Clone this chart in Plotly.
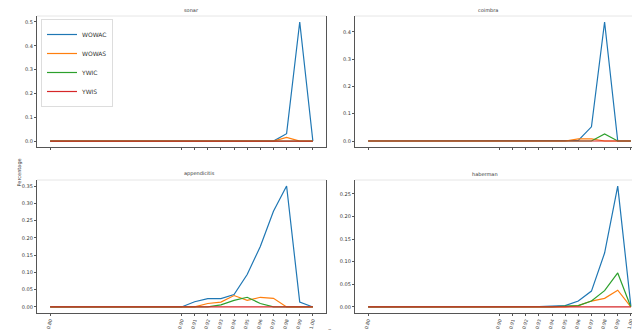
import plotly.graph_objects as go

# x values (thresholds)
thresholds = [0.80, 0.90, 0.91, 0.92, 0.93, 0.94, 0.95, 0.96, 0.97, 0.98, 0.99, 1.00]
tick_text = ["0.80", "0.90", "0.91", "0.92", "0.93", "0.94", "0.95", "0.96", "0.97", "0.98", "0.99", "1.00"]

methods = ["WOWAC", "WOWAS", "YWIC", "YWIS"]
colors = ["#1f77b4", "#ff7f0e", "#2ca02c", "#d62728"]

# sonar
sonar_wowac = [0, 0, 0, 0, 0, 0, 0, 0, 0, 0.031, 0.50, 0]
sonar_wowas = [0, 0, 0, 0, 0, 0, 0, 0, 0, 0.015, 0, 0]
sonar_ywic = [0, 0, 0, 0, 0, 0, 0, 0, 0, 0, 0, 0]
sonar_ywis = [0, 0, 0, 0, 0, 0, 0, 0, 0, 0, 0, 0]

# coimbra
coimbra_wowac = [0, 0, 0, 0, 0, 0.002, 0.002, 0.002, 0.052, 0.436, 0, 0]
coimbra_wowas = [0, 0, 0, 0, 0, 0, 0, 0.008, 0.008, 0, 0, 0]
coimbra_ywic = [0, 0, 0, 0, 0, 0, 0, 0, 0, 0.026, 0, 0]
coimbra_ywis = [0, 0, 0, 0, 0, 0, 0, 0, 0, 0, 0, 0]

# appendicitis
append_wowac = [0, 0, 0.015, 0.024, 0.024, 0.036, 0.094, 0.175, 0.277, 0.35, 0.014, 0]
append_wowas = [0, 0, 0, 0.010, 0.014, 0.033, 0.019, 0.028, 0.025, 0, 0, 0]
append_ywic = [0, 0, 0, 0, 0.006, 0.019, 0.028, 0.010, 0, 0, 0, 0]
append_ywis = [0, 0, 0, 0, 0, 0, 0, 0, 0, 0, 0, 0]

# haberman
haber_wowac = [0, 0, 0, 0, 0.001, 0.002, 0.003, 0.013, 0.035, 0.119, 0.267, 0.002]
haber_wowas = [0, 0, 0, 0, 0, 0, 0, 0.003, 0.013, 0.019, 0.037, 0]
haber_ywic = [0, 0, 0, 0, 0, 0, 0.002, 0.003, 0.013, 0.036, 0.075, 0]
haber_ywis = [0, 0, 0, 0, 0, 0, 0, 0, 0, 0, 0, 0]

panels = [
    ("sonar", [sonar_wowac, sonar_wowas, sonar_ywic, sonar_ywis], [-0.025, 0.525], 0.1, ".1f"),
    ("coimbra", [coimbra_wowac, coimbra_wowas, coimbra_ywic, coimbra_ywis], [-0.022, 0.458], 0.1, ".1f"),
    ("appendicitis", [append_wowac, append_wowas, append_ywic, append_ywis], [-0.0175, 0.3675], 0.05, ".2f"),
    ("haberman", [haber_wowac, haber_wowas, haber_ywic, haber_ywis], [-0.0134, 0.2804], 0.05, ".2f"),
]

W, H = 640, 330
# pixel boxes (left, right, top, bottom)
boxes = [(29, 318, 8, 139), (347, 636, 8, 139), (29, 318, 172, 305), (347, 636, 172, 305)]

fig = go.Figure()
font = dict(family="DejaVu Sans", size=5, color="#333")
xfont = dict(family="DejaVu Sans", size=4.5, color="#333")

for i, (name, series, yr, dt, fmt) in enumerate(panels):
    n = "" if i == 0 else str(i + 1)
    l, r, t, b = boxes[i]
    for j, vals in enumerate(series):
        fig.add_trace(go.Scatter(
            x=thresholds, y=vals, mode="lines", name=methods[j],
            line=dict(color=colors[j], width=1.2),
            xaxis="x" + n, yaxis="y" + n, showlegend=(i == 0),
        ))
    fig.update_layout(**{
        "xaxis" + n: dict(
            domain=[l / W, r / W], anchor="y" + n, range=[0.79, 1.01],
            tickvals=thresholds, ticktext=tick_text, tickangle=-75,
            showticklabels=(i >= 2), ticks="outside", ticklen=2, tickcolor="#555",
            showline=True, linecolor="#555", linewidth=1.2, showgrid=False,
            zeroline=False, tickfont=xfont,
        ),
        "yaxis" + n: dict(
            domain=[1 - b / H, 1 - t / H], anchor="x" + n, range=yr,
            dtick=dt, tick0=0, tickformat=fmt, ticks="outside", ticklen=2,
            tickcolor="#555", showline=True, linecolor="#555", linewidth=1.2,
            mirror=True, showgrid=False, zeroline=False, tickfont=font,
        ),
    })
    # light top border
    fig.add_shape(type="line", xref="paper", yref="paper",
                  x0=l / W, x1=r / W, y0=1 - t / H, y1=1 - t / H,
                  line=dict(color="#e6e6e6", width=1))
    fig.add_annotation(text=name, xref="paper", yref="paper",
                       x=(l + r) / 2 / W, y=1 - (t - 1) / H, yanchor="bottom",
                       showarrow=False, font=dict(family="DejaVu Sans", size=5, color="#333"))

fig.add_annotation(text="Percentage", xref="paper", yref="paper", x=5 / W, y=1 - 165 / H,
                   textangle=-90, showarrow=False, font=dict(family="DejaVu Sans", size=5, color="#333"))
fig.add_annotation(text="α", xref="paper", yref="paper", x=322 / W, y=1 - 322 / H,
                   yanchor="middle", showarrow=False, font=dict(family="DejaVu Sans", size=5, color="#333"))

fig.update_layout(
    width=W, height=H, margin=dict(l=0, r=0, t=0, b=0),
    paper_bgcolor="white", plot_bgcolor="white",
    legend=dict(x=33 / W, y=1 - 11 / H, xanchor="left", yanchor="top",
                bgcolor="rgba(255,255,255,0.9)", bordercolor="#ddd", borderwidth=1,
                font=dict(family="DejaVu Sans", size=6, color="#333"),
                itemwidth=30, tracegroupgap=0),
)

fig.write_html("out.html")
